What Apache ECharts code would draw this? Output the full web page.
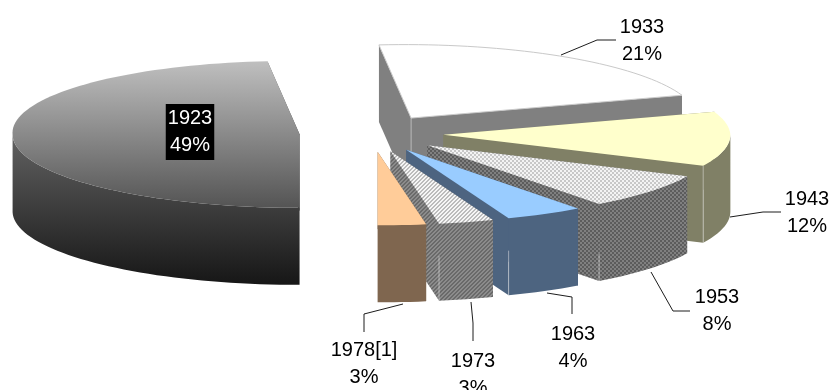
<!DOCTYPE html>
<html>
<head>
<meta charset="utf-8">
<style>html,body{margin:0;padding:0;background:#fff}#chart{width:831px;height:390px}</style>
<script src="https://cdn.jsdelivr.net/npm/echarts@6/dist/echarts.min.js"></script>
</head>
<body>
<div id="chart"></div>
<script>
// Share of each census year, in percent
const years = ['1923', '1933', '1943', '1953', '1963', '1973', '1978[1]'];
const shares = [48.5, 21.4, 12, 7.8, 4.4, 3.1, 2.7];

// Pie geometry: the first slice starts at six o'clock and slices run clockwise.
// farLean tilts the far half of the rim leftwards for a little perspective.
const PIE = { cx: 371.5, cy: 133.5, rx: 287, ry: 73.5, depth: 77, explode: 0.2509, startDeg: 180, farLean: 6 };

// Small repeating tiles for the two textured slices
function tile(size, paint) {
  const c = document.createElement('canvas');
  c.width = c.height = size;
  paint(c.getContext('2d'));
  return { image: c, repeat: 'repeat' };
}
function checker(light, dark) {
  return tile(4, g => {
    g.fillStyle = light; g.fillRect(0, 0, 4, 4);
    g.fillStyle = dark; g.fillRect(0, 0, 2, 2); g.fillRect(2, 2, 2, 2);
  });
}
function hatch(light, dark) {
  return tile(4, g => {
    g.fillStyle = light; g.fillRect(0, 0, 4, 4);
    g.fillStyle = dark;
    for (let i = 0; i < 4; i++) { g.fillRect(i, (3 - i) % 4, 1, 1); g.fillRect(i, (4 - i) % 4, 1, 1); }
  });
}
function vertical(top, bottom) {
  return new echarts.graphic.LinearGradient(0, 0, 0, 1, [
    { offset: 0, color: top }, { offset: 1, color: bottom }
  ]);
}

const topFills = [
  vertical('#bfbfbf', '#545454'), '#ffffff', '#ffffcc',
  checker('#f4f4f4', '#c8c8c8'), '#99ccff', hatch('#f6f6f6', '#bcbcbc'), '#ffcc99'
];
const wallFills = [
  vertical('#616161', '#161616'), '#808080', '#808066',
  checker('#808080', '#5c5c5c'), '#4d6480', hatch('#8c8c8c', '#6a6a6a'), '#7f664f'
];
const topOutline = [null, '#c9c9c9', null, null, null, null, null];
// Light corner line on the front of a slice: fraction of the depth it starts at
const creaseFrom = [null, 0, 0, 0.65, 0.42, 0.42, null];

// Label centres and leader routes (the first leader point sits on the slice rim)
const labelPos = [[190, 132], [642, 41], [807, 213], [717, 311], [573, 348], [473, 375], [364, 364]];
const leaderRim = [null, [561, 55], [730, 217], [651, 272], [547, 293], [471, 302], [403, 304]];
const leaderBends = [null, [[597, 40], [616, 40]], [[763, 212], [781, 212]], [[673, 311], [690, 311]], [[572, 297], [572, 314]], [[473, 323], [473, 341]], [[364, 314], [364, 332]]];

const rad = d => d * Math.PI / 180;

function sliceAngles(i) {
  const total = shares.reduce((a, b) => a + b, 0);
  const before = shares.slice(0, i).reduce((a, b) => a + b, 0);
  const from = PIE.startDeg + before / total * 360;
  return { from, to: from + shares[i] / total * 360 };
}
function apexOf(a) {
  const mid = rad((a.from + a.to) / 2);
  return [
    PIE.cx + PIE.explode * PIE.rx * Math.sin(mid),
    PIE.cy - PIE.explode * PIE.ry * Math.cos(mid)
  ];
}
function rimPoint(apex, deg) {
  const c = Math.cos(rad(deg));
  return [
    apex[0] + PIE.rx * Math.sin(rad(deg)) - PIE.farLean * Math.max(0, c),
    apex[1] - PIE.ry * c
  ];
}
const drop = (p, d) => [p[0], p[1] + d];
function poly(points, fill, extra) {
  return { type: 'polygon', shape: { points }, style: Object.assign({ fill, stroke: null }, extra || {}) };
}

function renderSlice(params) {
  const i = params.dataIndex;
  const a = sliceAngles(i);
  const apex = apexOf(a);
  const arc = [];
  const steps = Math.max(6, Math.ceil((a.to - a.from) / 2));
  for (let s = 0; s <= steps; s++) arc.push(rimPoint(apex, a.from + (a.to - a.from) * s / steps));
  const first = arc[0], last = arc[arc.length - 1];
  const wall = wallFills[i];
  const children = [
    poly([apex, first, drop(first, PIE.depth), drop(apex, PIE.depth)], wall),
    poly([apex, last, drop(last, PIE.depth), drop(apex, PIE.depth)], wall)
  ];

  // The rim wall only shows on the near half of the ellipse
  const near = [];
  for (let s = 0; s <= steps; s++) {
    const deg = a.from + (a.to - a.from) * s / steps;
    const n = ((deg % 360) + 360) % 360;
    if (n >= 90 && n <= 270) near.push(rimPoint(apex, deg));
  }
  if (a.from % 360 < 90 && a.to % 360 > 90) near.unshift(rimPoint(apex, 90));
  if (near.length > 1) {
    children.push(poly(near.concat(near.slice().reverse().map(p => drop(p, PIE.depth))), wall));
  }

  const top = [apex].concat(arc);
  children.push(poly(top, topFills[i], topOutline[i] ? { stroke: topOutline[i], lineWidth: 1 } : {}));

  if (creaseFrom[i] !== null) {
    const corner = i === 1 ? apex : last;
    children.push({
      type: 'line',
      shape: {
        x1: corner[0], y1: corner[1] + PIE.depth * creaseFrom[i],
        x2: corner[0], y2: corner[1] + PIE.depth * (i === 1 ? 0.45 : 1)
      },
      style: { stroke: 'rgba(235,235,235,0.5)', lineWidth: 1 }
    });
  }
  return { type: 'group', children };
}

function renderLabel(params) {
  const i = params.dataIndex;
  const pct = Math.round(shares[i] / shares.reduce((a, b) => a + b, 0) * 100) + '%';
  const children = [];
  if (leaderRim[i]) {
    children.push({
      type: 'polyline',
      shape: { points: [leaderRim[i]].concat(leaderBends[i]) },
      style: { stroke: '#1c1c1c', lineWidth: 1, fill: null }
    });
  }
  const dark = i === 0;
  children.push({
    type: 'text',
    style: {
      text: years[i] + '\n' + pct,
      x: labelPos[i][0], y: labelPos[i][1],
      align: 'center', verticalAlign: 'middle',
      font: '20px "Liberation Sans", Arial, sans-serif',
      lineHeight: 27,
      fill: dark ? '#ffffff' : '#000000',
      backgroundColor: dark ? '#000000' : 'transparent',
      padding: dark ? [1, 2] : 0
    }
  });
  return { type: 'group', children };
}

const chart = echarts.init(document.getElementById('chart'), null, { renderer: 'canvas' });
chart.setOption({
  animation: false,
  backgroundColor: '#ffffff',
  series: [
    { type: 'custom', coordinateSystem: 'none', silent: true, data: shares, renderItem: renderSlice, z: 2 },
    { type: 'custom', coordinateSystem: 'none', silent: true, data: shares, renderItem: renderLabel, z: 3 }
  ]
});
</script>
</body>
</html>
